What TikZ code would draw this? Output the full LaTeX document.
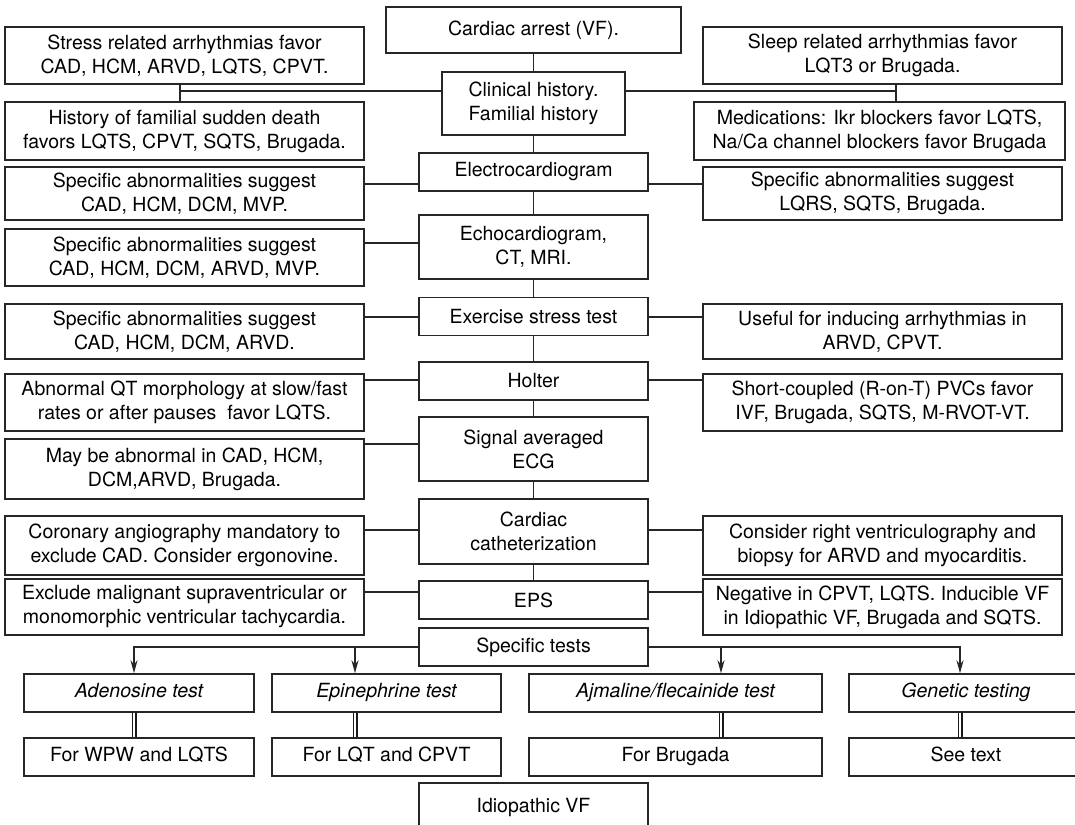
\documentclass[tikz,border=0pt]{standalone}
\usepackage{fontspec}
\setmainfont{TeX Gyre Heros}
\usetikzlibrary{arrows.meta}
\tikzset{
  box/.style={draw=black!85, line width=1.5pt, fill=white, inner sep=0pt, align=center,
    font=\fontsize{19.5}{24}\selectfont},
  testbox/.style={box, font=\fontsize{19.5}{24}\selectfont\itshape},
  link/.style={draw=black!85, line width=1.5pt},
  arr/.style={link, -{Stealth[length=13pt,width=7pt]}},
  dbl/.style={draw=black!90, line width=1.6pt, double, double distance=1.8pt}
}
\begin{document}
\begin{tikzpicture}[x=1pt,y=-1pt]
  \useasboundingbox (0,0) rectangle (1075,824);

  % main column
  \node[box, minimum width=295, minimum height=46] (arrest) at (533.5,30) {Cardiac arrest (VF).};
  \node[box, minimum width=183, minimum height=63] (clin) at (533.5,103.5) {Clinical history.\\Familial history};
  \node[box, minimum width=229, minimum height=38] (ecg) at (533.5,172) {Electrocardiogram};
  \node[box, minimum width=229, minimum height=64] (echo) at (533.5,247) {Echocardiogram,\\CT, MRI.};
  \node[box, minimum width=229, minimum height=38] (exer) at (533.5,316.5) {Exercise stress test};
  \node[box, minimum width=229, minimum height=38] (holter) at (533.5,381) {Holter};
  \node[box, minimum width=229, minimum height=64] (saecg) at (533.5,449) {Signal averaged\\ECG};
  \node[box, minimum width=229, minimum height=65] (cath) at (533.5,531.5) {Cardiac\\catheterization};
  \node[box, minimum width=229, minimum height=38] (eps) at (533.5,600) {EPS};
  \node[box, minimum width=229, minimum height=38] (spec) at (533.5,647) {Specific tests};
  \node[box, minimum width=229, minimum height=50] (ivf) at (533.5,808) {Idiopathic VF};

  % left column
  \node[box, minimum width=359, minimum height=57] (stress) at (184.5,55.5) {Stress related arrhythmias favor\\CAD, HCM, ARVD, LQTS, CPVT.};
  \node[box, minimum width=359, minimum height=58] (famil) at (184.5,131) {History of familial sudden death\\favors LQTS, CPVT, SQTS, Brugada.};
  \node[box, minimum width=359, minimum height=53] (lecg) at (184.5,193.5) {Specific abnormalities suggest\\CAD, HCM, DCM, MVP.};
  \node[box, minimum width=359, minimum height=57] (lecho) at (184.5,257.5) {Specific abnormalities suggest\\CAD, HCM, DCM, ARVD, MVP.};
  \node[box, minimum width=359, minimum height=55] (lexer) at (184.5,331.5) {Specific abnormalities suggest\\CAD, HCM, DCM, ARVD.};
  \node[box, minimum width=359, minimum height=57] (lholt) at (184.5,402.5) {Abnormal QT morphology at slow/fast\\rates or after pauses\ \ favor LQTS.};
  \node[box, minimum width=359, minimum height=60] (lsa) at (184.5,469) {May be abnormal in CAD, HCM,\\DCM,ARVD, Brugada.};
  \node[box, minimum width=359, minimum height=59] (lcath) at (184.5,545.5) {Coronary angiography mandatory to\\exclude CAD. Consider ergonovine.};
  \node[box, minimum width=359, minimum height=56] (leps) at (184.5,607) {Exclude malignant supraventricular or\\monomorphic ventricular tachycardia.};

  % right column
  \node[box, minimum width=359, minimum height=57] (sleep) at (882.5,55.5) {Sleep related arrhythmias favor\\LQT3 or Brugada.};
  \node[box, minimum width=371, minimum height=58] (meds) at (879.5,131) {Medications: Ikr blockers favor LQTS,\\Na/Ca channel blockers favor Brugada};
  \node[box, minimum width=359, minimum height=53] (recg) at (882.5,193.5) {Specific abnormalities suggest\\LQRS, SQTS, Brugada.};
  \node[box, minimum width=359, minimum height=55] (rexer) at (882.5,331.5) {Useful for inducing arrhythmias in\\ARVD, CPVT.};
  \node[box, minimum width=359, minimum height=57] (rholt) at (882.5,402.5) {Short-coupled (R-on-T) PVCs favor\\IVF, Brugada, SQTS, M-RVOT-VT.};
  \node[box, minimum width=359, minimum height=59] (rcath) at (882.5,545.5) {Consider right ventriculography and\\biopsy for ARVD and myocarditis.};
  \node[box, minimum width=359, minimum height=56] (reps) at (882.5,607) {Negative in CPVT, LQTS. Inducible VF\\in Idiopathic VF, Brugada and SQTS.};

  % specific tests
  \node[testbox, minimum width=230, minimum height=38] (aden) at (139,693) {\strut Adenosine test};
  \node[testbox, minimum width=229, minimum height=38] (epi) at (386.5,693) {\strut Epinephrine test};
  \node[testbox, minimum width=293, minimum height=38] (ajm) at (675.5,693) {\strut Ajmaline/flecainide test};
  \node[testbox, minimum width=234, minimum height=38] (gen) at (966,693) {\strut Genetic testing};
  \node[box, minimum width=230, minimum height=38] (wpw) at (139,757) {\strut For WPW and LQTS};
  \node[box, minimum width=229, minimum height=38] (lqt) at (386.5,757) {\strut For LQT and CPVT};
  \node[box, minimum width=293, minimum height=38] (brug) at (675.5,757) {\strut For Brugada};
  \node[box, minimum width=234, minimum height=38] (seetxt) at (966,757) {\strut See text};

  \coordinate (jl) at (180,91);
  \coordinate (jr) at (896,91);
  \coordinate (hecg) at (0,184);
  \coordinate (hecho) at (0,243);
  \coordinate (hexer) at (0,317);
  \coordinate (hholt) at (0,380);
  \coordinate (hsa) at (0,444);
  \coordinate (hcath) at (0,530);
  \coordinate (heps) at (0,592);
  \coordinate (ta) at (134,0);
  \coordinate (tb) at (355,0);
  \coordinate (tc) at (721,0);
  \coordinate (td) at (960,0);

  \draw[link] (arrest) -- (clin) -- (ecg) -- (echo) -- (exer) -- (holter) -- (saecg) -- (cath) -- (eps);
  \draw[link] (stress.south -| jl) -- (famil.north -| jl);
  \draw[link] (sleep.south -| jr) -- (meds.north -| jr);
  \draw[link] (jl) -- (jl -| clin.west);
  \draw[link] (jr) -- (jr -| clin.east);
  \draw[link] (lecg.east |- hecg) -- (ecg.west |- hecg);
  \draw[link] (ecg.east |- hecg) -- (recg.west |- hecg);
  \draw[link] (lecho.east |- hecho) -- (echo.west |- hecho);
  \draw[link] (lexer.east |- hexer) -- (exer.west |- hexer);
  \draw[link] (exer.east |- hexer) -- (rexer.west |- hexer);
  \draw[link] (lholt.east |- hholt) -- (holter.west |- hholt);
  \draw[link] (holter.east |- hholt) -- (rholt.west |- hholt);
  \draw[link] (lsa.east |- hsa) -- (saecg.west |- hsa);
  \draw[link] (lcath.east |- hcath) -- (cath.west |- hcath);
  \draw[link] (cath.east |- hcath) -- (rcath.west |- hcath);
  \draw[link] (leps.east |- heps) -- (eps.west |- heps);
  \draw[link] (eps.east |- heps) -- (reps.west |- heps);

  \draw[arr] (spec.west) -| (aden.north -| ta);
  \draw[arr] (spec.west -| tb) -- (epi.north -| tb);
  \draw[arr] (spec.east) -| (gen.north -| td);
  \draw[arr] (spec.east -| tc) -- (ajm.north -| tc);

  \draw[dbl] (aden.south -| ta) -- (wpw.north -| ta);
  \draw[dbl] (epi.south -| tb) -- (lqt.north -| tb);
  \draw[dbl] (ajm.south -| tc) -- (brug.north -| tc);
  \draw[dbl] (gen.south -| td) -- (seetxt.north -| td);
\end{tikzpicture}
\end{document}
